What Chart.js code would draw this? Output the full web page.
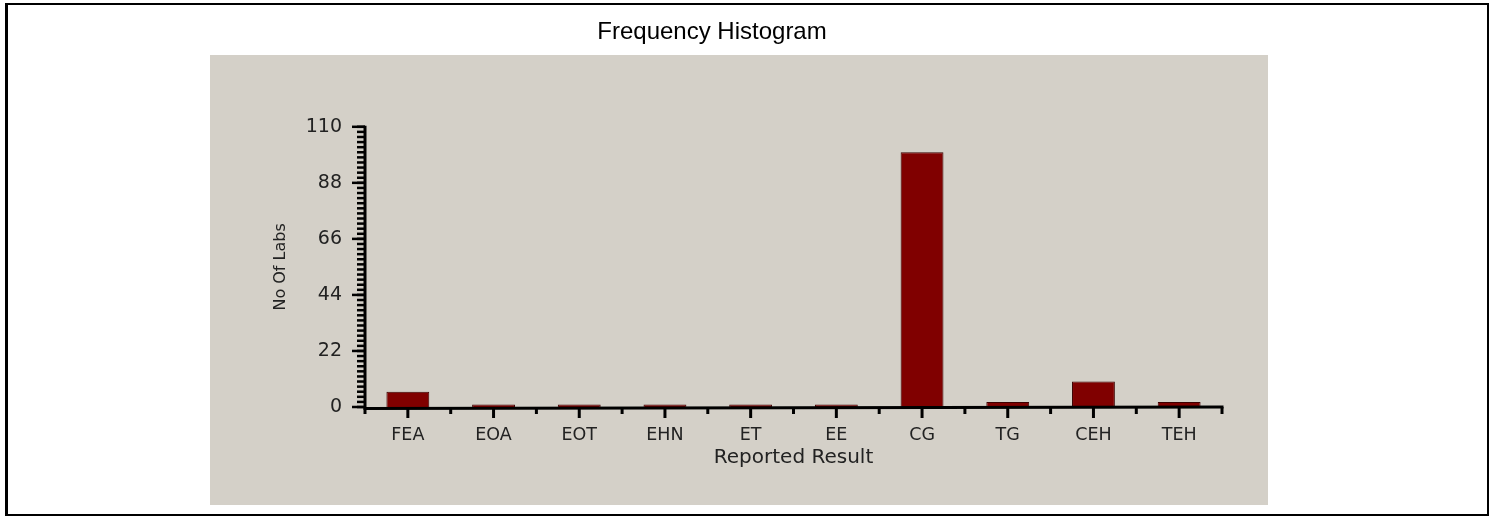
<!DOCTYPE html>
<html>
<head>
<meta charset="utf-8">
<script src="https://cdn.jsdelivr.net/npm/chart.js@4.4.1/dist/chart.umd.min.js"></script>
<style>
  html, body { margin: 0; padding: 0; background: #ffffff; }
  #wrap { position: relative; width: 1489px; height: 518px; overflow: hidden; }
  #frame { position: absolute; left: 5px; top: 3px; width: 1479px; height: 509px;
           border: 2px solid #000; border-left-width: 3px; box-sizing: content-box; }
  #panel { position: absolute; left: 210px; top: 55px; width: 1058px; height: 450px; background: #d4d0c8; }
  #c { position: absolute; left: 0; top: 0; }
</style>
</head>
<body>
<div id="wrap">
  <div id="frame"></div>
  <div id="panel"></div>
  <canvas id="c" width="1424" height="518"></canvas>
</div>
<script>
// ---- data ----
const categories = ['FEA', 'EOA', 'EOT', 'EHN', 'ET', 'EE', 'CG', 'TG', 'CEH', 'TEH'];
const labCounts = [6, 1, 1, 1, 1, 1, 100, 2, 10, 2];
const yTickValues = [0, 22, 44, 66, 88, 110];
const yMinorStep = 2;
const chartTitle = 'Frequency Histogram';
const xTitle = 'Reported Result';
const yTitle = 'No Of Labs';

// axis lines and tick marks drawn through the library's scales
const axisPlugin = {
  id: 'axisMarks',
  afterDatasetsDraw(chart) {
    const { ctx, chartArea: a, scales: { x, y } } = chart;
    ctx.save();
    ctx.strokeStyle = '#000';
    // minor y ticks
    ctx.lineWidth = 2.5;
    const yMax = yTickValues[yTickValues.length - 1];
    for (let v = 0; v <= yMax; v += yMinorStep) {
      const py = y.getPixelForValue(v);
      ctx.beginPath(); ctx.moveTo(a.left - 8, py); ctx.lineTo(a.left, py); ctx.stroke();
    }
    // major y ticks
    ctx.lineWidth = 2.5;
    for (const v of yTickValues) {
      const py = y.getPixelForValue(v);
      ctx.beginPath(); ctx.moveTo(a.left - 13, py); ctx.lineTo(a.left, py); ctx.stroke();
    }
    // x ticks: major at category centres, minor at boundaries
    ctx.lineWidth = 3;
    const base = y.getPixelForValue(0);
    for (let i = 0; i < categories.length; i++) {
      const px = x.getPixelForValue(i);
      ctx.beginPath(); ctx.moveTo(px, base); ctx.lineTo(px, base + 11); ctx.stroke();
    }
    for (let i = 0; i <= categories.length; i++) {
      let px;
      if (i === 0) px = a.left;
      else if (i === categories.length) px = a.right;
      else px = (x.getPixelForValue(i - 1) + x.getPixelForValue(i)) / 2;
      ctx.beginPath(); ctx.moveTo(px, base); ctx.lineTo(px, base + 7); ctx.stroke();
    }
    // axis lines
    ctx.lineWidth = 3;
    ctx.beginPath();
    ctx.moveTo(a.left, y.getPixelForValue(yMax) - 1);
    ctx.lineTo(a.left, base + 1.5);
    ctx.lineTo(a.right + 1.5, base);
    ctx.stroke();
    ctx.restore();
  }
};

new Chart(document.getElementById('c'), {
  type: 'bar',
  data: {
    labels: categories,
    datasets: [{
      data: labCounts,
      backgroundColor: '#800000',
      borderColor: '#3c0000',
      borderWidth: 1,
      barPercentage: 0.5,
      categoryPercentage: 1.0
    }]
  },
  options: {
    responsive: false,
    animation: false,
    devicePixelRatio: 1,
    layout: { padding: 0 },
    plugins: {
      legend: { display: false },
      tooltip: { enabled: false },
      title: {
        display: true,
        text: chartTitle,
        color: '#000',
        font: { family: 'Arial, "Liberation Sans"', size: 24, weight: 'normal' },
        padding: { top: 18, bottom: 80 }
      }
    },
    scales: {
      x: {
        grid: { display: false, drawTicks: false },
        border: { display: false },
        ticks: { color: '#222', padding: 18, font: { family: '"DejaVu Sans"', size: 17.5 }, maxRotation: 0 },
        title: { display: true, text: xTitle, color: '#222',
                 font: { family: '"DejaVu Sans"', size: 20 }, padding: { top: 0, bottom: 48 } },
        afterFit(s) { s.height = 111; }
      },
      y: {
        min: 0, max: 110,
        afterBuildTicks(s) { s.ticks = yTickValues.map(v => ({ value: v })); },
        grid: { display: false, drawTicks: false },
        border: { display: false },
        ticks: { color: '#222', padding: 23, font: { family: '"DejaVu Sans"', size: 19 } },
        title: { display: true, text: yTitle, color: '#222',
                 font: { family: '"DejaVu Sans"', size: 16 }, padding: { top: 271, bottom: 0 } },
        afterFit(s) { s.width = 365; }
      },
      yRight: {
        type: 'linear',
        position: 'right',
        display: true,
        grid: { display: false, drawTicks: false },
        border: { display: false },
        ticks: { display: false },
        afterFit(s) { s.width = 202; }
      }
    }
  },
  plugins: [axisPlugin]
});
</script>
</body>
</html>
